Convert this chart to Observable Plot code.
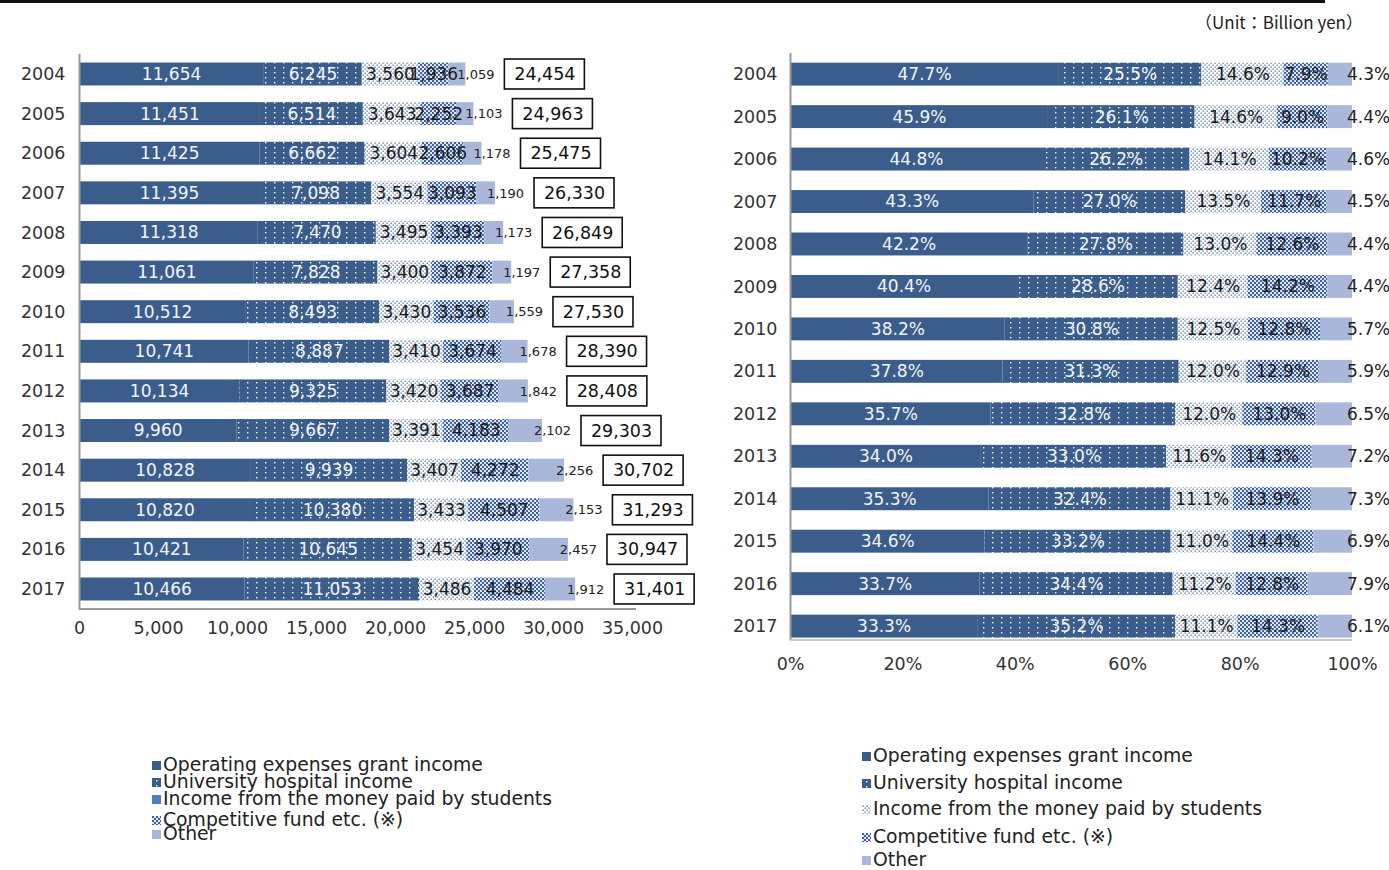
<!DOCTYPE html>
<html><head><meta charset="utf-8">
<script src="https://cdn.jsdelivr.net/npm/d3@7"></script>
<script src="https://cdn.jsdelivr.net/npm/@observablehq/plot@0.6"></script>
<style>
body{margin:0;width:1389px;height:870px;position:relative;background:#fff;font-family:"DejaVu Sans","Noto Sans",sans-serif;color:#222;overflow:hidden}
#topline{position:absolute;left:0;top:0;width:1325px;height:3px;background:#111}
#unit{position:absolute;right:26px;top:9px;font-size:17px;color:#222;white-space:nowrap;font-family:"Noto Sans CJK JP","DejaVu Sans",sans-serif}
#left{position:absolute;left:0;top:0}
#right{position:absolute;left:700px;top:0}
.leg{position:absolute;font-size:18.8px;line-height:20px;white-space:nowrap;color:#222}
.leg svg{position:absolute;left:0;top:6px}
.leg span{position:absolute;left:11px;top:0}
</style></head><body>
<svg width="0" height="0" style="position:absolute">
<defs>
<pattern id="pHosp" patternUnits="userSpaceOnUse" width="9" height="5">
<rect width="9" height="5" fill="#3b5d8b"/><rect x="4" y="2" width="1.4" height="1.4" fill="#fff"/>
</pattern>
<pattern id="pStud" patternUnits="userSpaceOnUse" width="4" height="4">
<rect width="4" height="4" fill="#fff"/><rect x="0.5" y="0.5" width="1.3" height="1.3" fill="#4a6ea3"/><rect x="2.5" y="2.5" width="1.3" height="1.3" fill="#4a6ea3"/>
</pattern>
<pattern id="pComp" patternUnits="userSpaceOnUse" width="4" height="4">
<rect width="4" height="4" fill="#dfe5f2"/><rect x="0" y="0" width="2" height="2" fill="#3f62a0"/><rect x="2" y="2" width="2" height="2" fill="#3f62a0"/>
</pattern>
</defs>
</svg>
<div id="topline"></div>
<div id="unit">（Unit：Billion yen）</div>
<div id="left"></div>
<div id="right"></div>
<div id="legends"></div>
<script>
const years = ["2004","2005","2006","2007","2008","2009","2010","2011","2012","2013","2014","2015","2016","2017"];
const seriesNames = ["Operating expenses grant income","University hospital income","Income from the money paid by students","Competitive fund etc. (※)","Other"];
// Billion yen
const opGrant     = [11654,11451,11425,11395,11318,11061,10512,10741,10134,9960,10828,10820,10421,10466];
const hospital    = [6245,6514,6662,7098,7470,7828,8493,8887,9325,9667,9939,10380,10645,11053];
const students    = [3560,3643,3604,3554,3495,3400,3430,3410,3420,3391,3407,3433,3454,3486];
const competitive = [1936,2252,2606,3093,3393,3872,3536,3674,3687,4183,4272,4507,3970,4484];
const other       = [1059,1103,1178,1190,1173,1197,1559,1678,1842,2102,2256,2153,2457,1912];
const totals      = [24454,24963,25475,26330,26849,27358,27530,28390,28408,29303,30702,31293,30947,31401];
// Shares (%)
const opPct    = [47.7,45.9,44.8,43.3,42.2,40.4,38.2,37.8,35.7,34.0,35.3,34.6,33.7,33.3];
const hospPct  = [25.5,26.1,26.2,27.0,27.8,28.6,30.8,31.3,32.8,33.0,32.4,33.2,34.4,35.2];
const studPct  = [14.6,14.6,14.1,13.5,13.0,12.4,12.5,12.0,12.0,11.6,11.1,11.0,11.2,11.1];
const compPct  = [7.9,9.0,10.2,11.7,12.6,14.2,12.8,12.9,13.0,14.3,13.9,14.4,12.8,14.3];
const otherPct = [4.3,4.4,4.6,4.5,4.4,4.4,5.7,5.9,6.5,7.2,7.3,6.9,7.9,6.1];
const xTicksLeft = [0,5000,10000,15000,20000,25000,30000,35000];
const xTicksRight = [0,0.2,0.4,0.6,0.8,1];

const FONT = '"DejaVu Sans","Noto Sans",sans-serif';
const fills = ["#3b5d8b","url(#pHosp)","url(#pStud)","url(#pComp)","#a9b8da"];

function longTable(cols){
  const rows=[];
  years.forEach((y,i)=>cols.forEach((c,j)=>rows.push({year:y,series:seriesNames[j],value:c[i],k:j})));
  return rows;
}
const leftRows = longTable([opGrant,hospital,students,competitive,other]);
const rightRows = longTable([opPct,hospPct,studPct,compPct,otherPct]);
const totalRows = years.map((y,i)=>({year:y,total:totals[i]}));
const fmt = d3.format(",");
const pct = v => v.toFixed(1)+"%";

// Left chart
const LW=700, LH=650, LML=79, LMR=68, LMT=54, LMB=41;
const left = Plot.plot({
  width:LW, height:LH, marginLeft:LML, marginRight:LMR, marginTop:LMT, marginBottom:LMB,
  style:{fontFamily:FONT, fontSize:"17.5px", color:"#333", background:"transparent", overflow:"visible"},
  x:{domain:[0,35000], ticks:xTicksLeft, tickFormat:fmt, tickSize:0, tickPadding:12, label:null},
  y:{domain:years, paddingInner:0.42, paddingOuter:0.215, round:false, tickSize:0, tickPadding:14, label:null},
  color:{domain:seriesNames, range:fills},
  marks:[
    Plot.barX(leftRows, Plot.stackX({y:"year", x:"value", fill:"series"})),
    Plot.text(leftRows, Plot.stackX({y:"year", x:"value", text:d=>d.k<2?fmt(d.value):null, fill:"#f2f5fa", fontSize:17})),
    Plot.text(leftRows, Plot.stackX({y:"year", x:"value", text:d=>(d.k===2||d.k===3)?fmt(d.value):null, fill:"#1a1a1a", fontSize:17})),
    Plot.text(leftRows, Plot.stackX2({y:"year", x:"value", text:d=>d.k===4?fmt(d.value):null, fill:"#222", fontSize:13, dx:10})),
    Plot.barX(totalRows, {y:"year", x1:"total", x2:"total", dx:79, insetLeft:-40, insetRight:-40, insetTop:-3.5, insetBottom:-3.5, fill:"white", stroke:"#111", strokeWidth:1.6}),
    Plot.text(totalRows, {y:"year", x:"total", dx:79, text:d=>fmt(d.total), fill:"#111", fontSize:17.5}),
    Plot.ruleX([0], {stroke:"#999", strokeWidth:2})
  ]
});
d3.select(left).append("line")
  .attr("x1",LML).attr("x2",LW-LMR+4).attr("y1",LH-LMB).attr("y2",LH-LMB)
  .attr("stroke","#999").attr("stroke-width",2);
document.getElementById("left").appendChild(left);

// Right chart
const RW=689, RH=690, RML=90, RMR=37, RMT=53, RMB=50;
const right = Plot.plot({
  width:RW, height:RH, marginLeft:RML, marginRight:RMR, marginTop:RMT, marginBottom:RMB,
  style:{fontFamily:FONT, fontSize:"17.5px", color:"#333", background:"transparent", overflow:"visible"},
  x:{domain:[0,1], ticks:xTicksRight, tickFormat:d3.format(".0%"), tickSize:0, tickPadding:17, label:null},
  y:{domain:years, paddingInner:0.46, paddingOuter:0.1425, align:0.8, round:false, tickSize:0, tickPadding:13, label:null},
  color:{domain:seriesNames, range:fills},
  marks:[
    Plot.barX(rightRows, Plot.stackX({offset:"normalize", y:"year", x:"value", fill:"series"})),
    Plot.text(rightRows, Plot.stackX({offset:"normalize", y:"year", x:"value", text:d=>d.k<2?pct(d.value):null, fill:"#f2f5fa", fontSize:17})),
    Plot.text(rightRows, Plot.stackX({offset:"normalize", y:"year", x:"value", text:d=>(d.k===2||d.k===3)?pct(d.value):null, fill:"#1a1a1a", fontSize:17})),
    Plot.text(rightRows, Plot.stackX2({offset:"normalize", y:"year", x:"value", text:d=>d.k===4?pct(d.value):null, fill:"#222", fontSize:17, dx:16})),
    Plot.ruleX([0], {stroke:"#999", strokeWidth:2})
  ]
});
d3.select(right).append("line")
  .attr("x1",RML).attr("x2",RW-RMR).attr("y1",RH-RMB).attr("y2",RH-RMB)
  .attr("stroke","#bbb").attr("stroke-width",1.5);
document.getElementById("right").appendChild(right);

// Legends
const legendLeft = {x:152, tops:[755,772,789,810,824], swatches:["#3b5d8b","url(#pHosp)","#4f7fbf","url(#pComp)","#a9b8da"]};
const legendRight = {x:862, tops:[746,773,799,827,850], swatches:["#3b5d8b","url(#pHosp)","url(#pStud)","url(#pComp)","#a9b8da"]};
const legHost = document.getElementById("legends");
for (const L of [legendLeft, legendRight]) {
  seriesNames.forEach((name,i)=>{
    const d = document.createElement("div");
    d.className="leg";
    d.style.left = L.x+"px"; d.style.top = L.tops[i]+"px";
    d.innerHTML = `<svg width="9" height="9"><rect width="9" height="9" fill="${L.swatches[i]}"/></svg><span></span>`;
    d.querySelector("span").textContent = name;
    legHost.appendChild(d);
  });
}
</script>
</body></html>
